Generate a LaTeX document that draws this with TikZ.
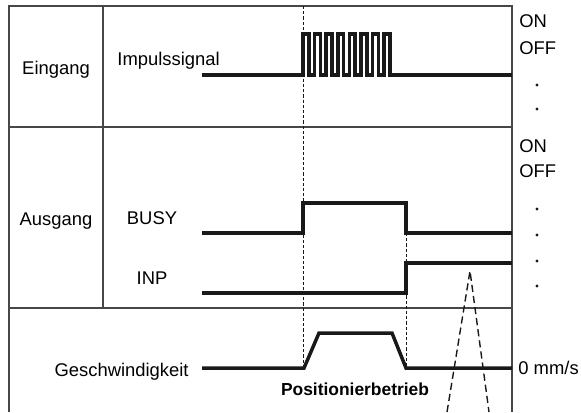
\documentclass[tikz,border=0pt]{standalone}
\usepackage{fontspec}
\setmainfont{Liberation Sans}

\begin{document}
\begin{tikzpicture}[x=0.5pt, y=-0.5pt,
                    frame/.style = {draw=black!72, line width=0.6pt},
                    sig/.style = {draw=black!90, line width=1.75pt},
                    guide/.style = {draw=black!90, line width=0.5pt, dash pattern=on 1.6pt off 1pt},
                    cone/.style = {draw=black!90, line width=0.7pt, dash pattern=on 3.6pt off 2pt},
                    lbl/.style = {font=\fontsize{9.2}{11}\selectfont, inner sep=0pt, anchor=base}]
                            \useasboundingbox (0,0) rectangle (581,412);

                            % table
                            \draw[frame] (9,412) -- (9,6) -- (512,6) -- (512,412);
                            \draw[frame] (9,127) -- (512,127);
                            \draw[frame] (9,308) -- (512,308);
                            \draw[frame] (103,6) -- (103,308);

                            % row and signal names
                            \node[lbl] (ein) at (56,74) {Eingang};
                            \node[lbl] (aus) at (56,225) {Ausgang};
                            \node[lbl, anchor=base west] (imp) at (117,65) {Impulssignal};
                            \node[lbl] (busy) at (152,224) {BUSY};
                            \node[lbl] (inp) at (152,284) {INP};
                            \node[lbl, anchor=base east] (geschw) at (189,376) {Geschwindigkeit};
                            \node[lbl, font=\fontsize{8.7}{10}\selectfont\bfseries] (pos) at (355,395) {Positionierbetrieb};

                            % levels on the right
                            \node[lbl, anchor=base west] (on1) at (519,27) {ON};
                            \node[lbl, anchor=base west] (off1) at (519,54) {OFF};
                            \node[lbl, anchor=base west] (on2) at (519,152) {ON};
                            \node[lbl, anchor=base west] (off2) at (519,177) {OFF};
                            \node[lbl, anchor=base west] (null) at (518,374) {0 mm/s};
                            \foreach \y in {85,109,209,235,261,286}
                                \fill[black!90] (537,\y) circle (1.7);

                            % timing marks
                            \coordinate (ta) at (303,6);
                            \coordinate (tb) at (406,233);
                            \draw[guide] (ta) -- (303,368);
                            \draw[guide] (tb) -- (406,368);

                            % signals
                            \draw[sig] (202,75) -- (303,75)
                                \foreach \k in {1,...,8} { -- ++(0,-41) -- ++(5.8,0) -- ++(0,41) -- ++(5.8,0) }
                                -- (512,75);
                            \draw[sig] (202,233) -- (303,233) -- (303,203) -- (406,203) -- (tb) -- (512,233);
                            \draw[sig] (202,293) -- (406,293) -- (406,263) -- (512,263);
                            \draw[sig] (202,368) -- (304,368) -- (319,333) -- (392,333) -- (406,368) -- (512,368);

                            \draw[cone] (447,412) -- (470,271) -- (489,412);
                        \end{tikzpicture}
\end{document}
